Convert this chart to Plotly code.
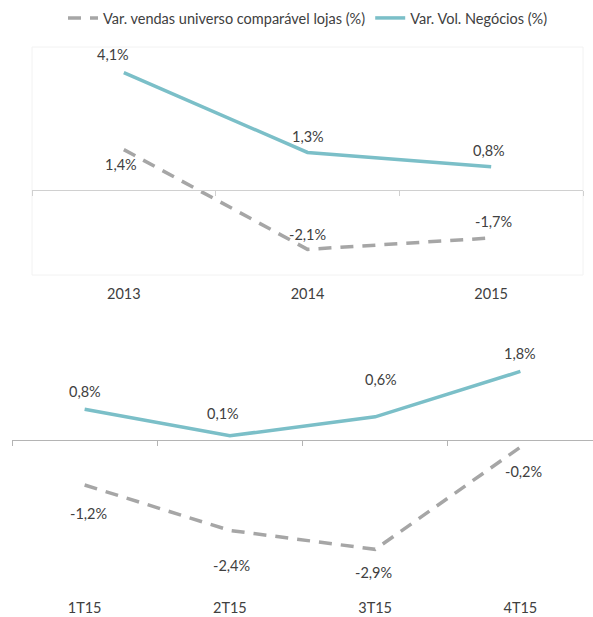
import plotly.graph_objects as go

# ---- data ----
years = ["2013", "2014", "2015"]
vendas_anual = [1.4, -2.1, -1.7]
volume_anual = [4.1, 1.3, 0.8]

quarters = ["1T15", "2T15", "3T15", "4T15"]
vendas_trim = [-1.2, -2.4, -2.9, -0.2]
volume_trim = [0.8, 0.1, 0.6, 1.8]

name_vendas = "Var. vendas universo comparável lojas (%)"
name_volume = "Var. Vol. Negócios (%)"

# ---- label offsets (px, style only) ----
off_vendas_anual = [(-3, -15), (0, 15), (2, 16)]
off_volume_anual = [(-11, 18), (0, 16), (-2, 16)]
off_vendas_trim = [(4, -28), (2, -35), (-2, -23), (3, -24)]
off_volume_trim = [(0, 18), (-7, 22), (6, 37), (0, 18)]

GRAY = "#A6A6A6"
TEAL = "#7BBFC8"
TXT = "#404040"
FONT = "Lato"
FS = 14.5

def fmt(v):
    return f"{v:.1f}%".replace(".", ",")

W, H = 593, 617
def py(px):  # pixel (from top) -> paper fraction
    return (H - px) / H

top_dom = [py(275), py(47)]
bot_dom = [py(591), py(326)]
top_rng = [-3, 5]
bot_rng = [-4, 3]
top_zero = top_dom[0] + (top_dom[1] - top_dom[0]) * (0 - top_rng[0]) / (top_rng[1] - top_rng[0])
bot_zero = bot_dom[0] + (bot_dom[1] - bot_dom[0]) * (0 - bot_rng[0]) / (bot_rng[1] - bot_rng[0])

fig = go.Figure()

fig.add_trace(go.Scatter(x=years, y=vendas_anual, name=name_vendas, mode="lines",
                         line=dict(color=GRAY, width=3.5, dash="13px,9px"),
                         xaxis="x", yaxis="y"))
fig.add_trace(go.Scatter(x=years, y=volume_anual, name=name_volume, mode="lines",
                         line=dict(color=TEAL, width=3.5),
                         xaxis="x", yaxis="y"))
fig.add_trace(go.Scatter(x=quarters, y=vendas_trim, name=name_vendas, mode="lines",
                         line=dict(color=GRAY, width=3.5, dash="13px,9px"),
                         xaxis="x2", yaxis="y2", showlegend=False))
fig.add_trace(go.Scatter(x=quarters, y=volume_trim, name=name_volume, mode="lines",
                         line=dict(color=TEAL, width=3.5),
                         xaxis="x2", yaxis="y2", showlegend=False))

annotations = []
def add_labels(cats, vals, offs, xr, yr):
    # category axes: position by category index
    for i, (v, (dx, dy)) in enumerate(zip(vals, offs)):
        annotations.append(dict(x=i, y=v, xref=xr, yref=yr, text=fmt(v), showarrow=False,
                                xshift=dx, yshift=dy,
                                font=dict(family=FONT, size=FS, color=TXT)))

add_labels(years, vendas_anual, off_vendas_anual, "x", "y")
add_labels(years, volume_anual, off_volume_anual, "x", "y")
add_labels(quarters, vendas_trim, off_vendas_trim, "x2", "y2")
add_labels(quarters, volume_trim, off_volume_trim, "x2", "y2")

def xax(dom, cats, pos, color, standoff):
    return dict(domain=dom, anchor="free", position=pos,
                type="category", categoryarray=cats, range=[-0.5, len(cats) - 0.5],
                showline=True, linecolor=color, linewidth=1.3,
                ticks="outside", tickson="boundaries", ticklen=5, tickcolor=color, tickwidth=1.3,
                showgrid=False, zeroline=False,
                ticklabelstandoff=standoff,
                tickfont=dict(family=FONT, size=FS, color=TXT))

fig.update_layout(
    width=W, height=H,
    margin=dict(l=0, r=0, t=0, b=0),
    paper_bgcolor="white", plot_bgcolor="white",
    font=dict(family=FONT, color=TXT, size=FS),
    legend=dict(orientation="h", x=308 / W, xanchor="center", y=py(18), yanchor="middle",
                font=dict(size=FS, color=TXT, family=FONT)),
    xaxis=xax([32 / W, 583 / W], years, top_zero, "#D0D0D0", 91),
    yaxis=dict(domain=top_dom, range=top_rng, visible=False),
    xaxis2=xax([12 / W, 1.0], quarters, bot_zero, "#B4B4B4", 155),
    yaxis2=dict(domain=bot_dom, range=bot_rng, visible=False),
    annotations=annotations,
    shapes=[dict(type="rect", xref="x domain", yref="y domain", x0=0, x1=1, y0=0, y1=1,
                 line=dict(color="#F2F2F2", width=1), layer="below")],
)

fig.write_html("out.html", config={"displayModeBar": False},
               post_script="document.body.style.margin='0px';")
